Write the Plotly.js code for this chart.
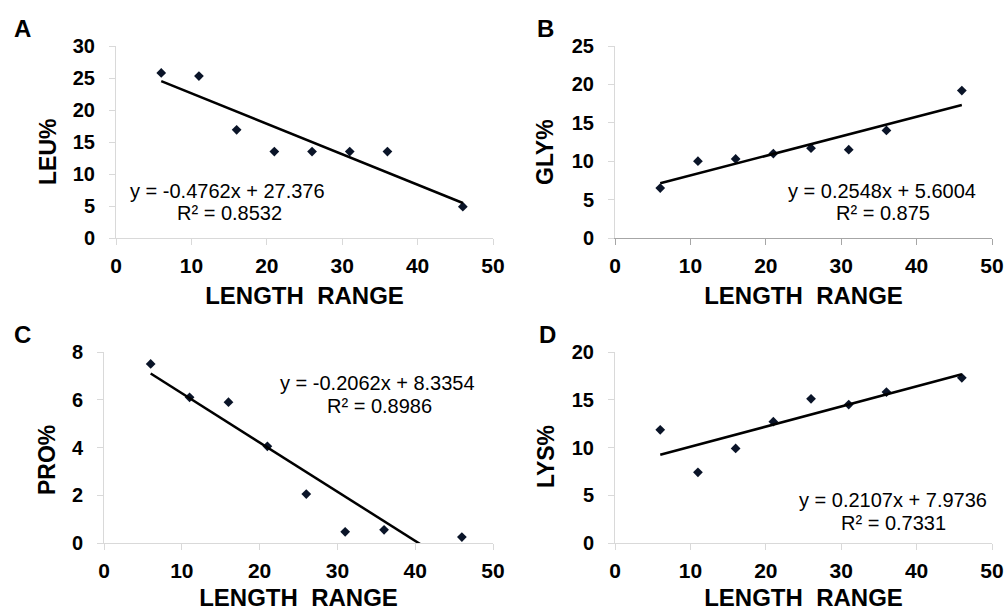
<!DOCTYPE html>
<html>
<head>
<meta charset="utf-8">
<script src="https://cdn.plot.ly/plotly-3.0.1.min.js"></script>
<style>html,body{margin:0;padding:0;background:#fff;}#chart{width:1006px;height:611px;}</style>
</head>
<body>
<div id="chart"></div>
<script>
const lengthRange = [6, 11, 16, 21, 26, 31, 36, 46];
const leu = [25.8, 25.3, 16.9, 13.5, 13.5, 13.5, 13.5, 4.9];
const gly = [6.5, 10.0, 10.3, 11.0, 11.7, 11.5, 14.0, 19.2];
const pro = [7.5, 6.1, 5.9, 4.05, 2.05, 0.47, 0.55, 0.25];
const lys = [11.85, 7.4, 9.9, 12.7, 15.1, 14.5, 15.8, 17.3];
const panelLetters = ['A', 'B', 'C', 'D'];
const yTitles = ['LEU%', 'GLY%', 'PRO%', 'LYS%'];
const slopes = [-0.4762, 0.2548, -0.2062, 0.2107];
const intercepts = [27.376, 5.6004, 8.3354, 7.9736];
const eqTexts = ['y = -0.4762x + 27.376', 'y = 0.2548x + 5.6004', 'y = -0.2062x + 8.3354', 'y = 0.2107x + 7.9736'];
const r2Texts = ['R² = 0.8532', 'R² = 0.875', 'R² = 0.8986', 'R² = 0.7331'];
const yMax = [30, 25, 8, 20];
const yStep = [5, 5, 2, 5];
const xTicks = [0, 10, 20, 30, 40, 50];
const xTitle = 'LENGTH  RANGE';

const W = 1006, H = 611;
const px = x => x / W;
const py = y => 1 - y / H;

// pixel boxes [left, right, top, bottom]
const boxes = [[116, 493, 46, 238], [615, 992, 46, 238], [104, 493, 352, 543], [615, 992, 352, 543]];
const letterPos = [[22, 28], [545, 29], [22, 334], [547, 334]];
const yTitlePos = [[48, 152], [545, 152], [47, 460], [546, 457]];
const eqPos = [[227, 191, 229, 213], [882, 191, 883, 213], [377, 383, 379, 406], [893, 500, 893, 523]];
const xAxisColors = ['#d9d9d9', '#a6a6a6', '#d9d9d9', '#d9d9d9'];

const series = [leu, gly, pro, lys];
const data = [];
const layout = {
  width: W, height: H,
  margin: {l: 0, r: 0, t: 0, b: 0},
  paper_bgcolor: '#fff', plot_bgcolor: '#fff',
  showlegend: false,
  font: {family: 'Liberation Sans, Arial, sans-serif', color: '#000'},
  annotations: []
};
const fam = 'Liberation Sans, Arial, sans-serif';

for (let i = 0; i < 4; i++) {
  const n = i === 0 ? '' : String(i + 1);
  const xa = 'x' + n, ya = 'y' + n;
  const b = boxes[i];
  data.push({
    type: 'scatter', mode: 'markers', x: lengthRange, y: series[i],
    xaxis: xa, yaxis: ya,
    marker: {symbol: 'diamond', size: 7.5, color: '#0a1428'},
    cliponaxis: false
  });
  const tx = [lengthRange[0], lengthRange[lengthRange.length - 1]];
  data.push({
    type: 'scatter', mode: 'lines', x: tx, y: tx.map(v => slopes[i] * v + intercepts[i]),
    xaxis: xa, yaxis: ya,
    line: {color: '#000', width: 2.5}
  });
  layout['xaxis' + n] = {
    domain: [px(b[0]), px(b[1])], anchor: ya,
    range: [0, 50], tickvals: xTicks, showgrid: false, zeroline: false,
    showline: true, linecolor: xAxisColors[i], linewidth: 1,
    ticks: 'outside', ticklen: 6, tickcolor: xAxisColors[i],
    tickfont: {family: fam, size: 21, weight: 'bold', color: '#000'}, ticklabelstandoff: 3,
    title: {text: xTitle, font: {family: fam, size: 24, weight: 'bold', color: '#000'}, standoff: 10}
  };
  const yt = [];
  for (let v = 0; v <= yMax[i]; v += yStep[i]) yt.push(v);
  layout['yaxis' + n] = {
    domain: [py(b[3]), py(b[2])], anchor: xa,
    range: [0, yMax[i]], tickvals: yt, showgrid: false, zeroline: false,
    showline: true, linecolor: '#d9d9d9', linewidth: 1,
    ticks: 'outside', ticklen: 6, tickcolor: '#d9d9d9',
    tickfont: {family: fam, size: 20, weight: 'bold', color: '#000'}, ticklabelstandoff: 10
  };
  layout.annotations.push({
    xref: 'paper', yref: 'paper', x: px(letterPos[i][0]), y: py(letterPos[i][1]),
    xanchor: 'center', yanchor: 'middle', showarrow: false, text: panelLetters[i],
    font: {family: fam, size: 24, weight: 'bold', color: '#000'}
  });
  layout.annotations.push({
    xref: 'paper', yref: 'paper', x: px(yTitlePos[i][0]), y: py(yTitlePos[i][1]),
    xanchor: 'center', yanchor: 'middle', showarrow: false, text: yTitles[i], textangle: -90,
    font: {family: fam, size: 23, weight: 'bold', color: '#000'}
  });
  const e = eqPos[i];
  layout.annotations.push({
    xref: 'paper', yref: 'paper', x: px(e[0]), y: py(e[1]),
    xanchor: 'center', yanchor: 'middle', showarrow: false, text: eqTexts[i],
    font: {family: fam, size: 20, color: '#000'}
  });
  layout.annotations.push({
    xref: 'paper', yref: 'paper', x: px(e[2]), y: py(e[3]),
    xanchor: 'center', yanchor: 'middle', showarrow: false, text: r2Texts[i],
    font: {family: fam, size: 20, color: '#000'}
  });
}

Plotly.newPlot('chart', data, layout, {displayModeBar: false, staticPlot: true});
</script>
</body>
</html>
